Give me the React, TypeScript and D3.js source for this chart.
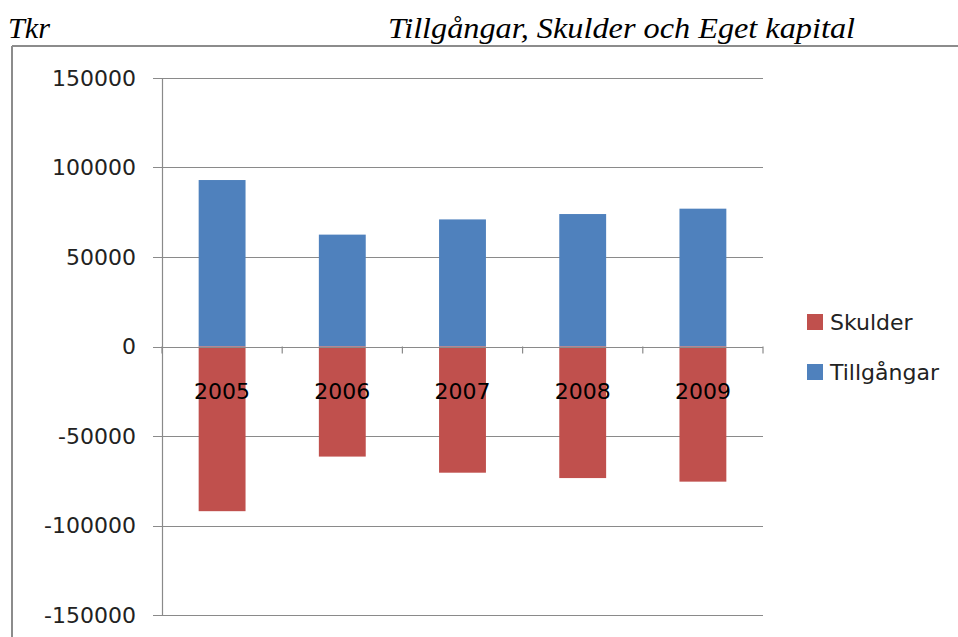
import * as d3 from "d3";
import React, { useEffect, useRef } from "react";

const years = ["2005", "2006", "2007", "2008", "2009"];
const tillgangar = [93000, 62500, 71000, 74000, 77000];
const skulder = [-92000, -61500, -70500, -73500, -75500];
const yTicks = [150000, 100000, 50000, 0, -50000, -100000, -150000];
const seriesNames = ["Skulder", "Tillgångar"];
const seriesColors = ["#c0504d", "#4f81bd"];

export default function App() {
    const ref = useRef(null);

    useEffect(() => {
        const svg = d3.select(ref.current);
        svg.selectAll("*").remove();

        const left = 162, right = 763, top = 78, bottom = 615;
        const font = "'DejaVu Sans', sans-serif";

        const y = d3.scaleLinear().domain([-150000, 150000]).range([bottom, top]);
        const x = d3.scaleBand().domain(years).range([left, right]).paddingInner(0.61).paddingOuter(0.305);
        const band = (right - left) / years.length;

        // titles
        svg.append("text")
            .attr("x", 8).attr("y", 38)
            .attr("textLength", 42)
            .attr("lengthAdjust", "spacingAndGlyphs")
            .style("font-family", "'Liberation Serif', serif")
            .style("font-style", "italic")
            .style("font-size", "30px")
            .text("Tkr");
        svg.append("text")
            .attr("x", 388).attr("y", 38)
            .attr("textLength", 467)
            .attr("lengthAdjust", "spacingAndGlyphs")
            .style("font-family", "'Liberation Serif', serif")
            .style("font-style", "italic")
            .style("font-size", "30px")
            .text("Tillgångar, Skulder och Eget kapital");

        // frame
        svg.append("line").attr("x1", 12).attr("x2", 958).attr("y1", 46).attr("y2", 46)
            .attr("stroke", "#8c8c8c").attr("stroke-width", 2);
        svg.append("line").attr("x1", 12).attr("x2", 12).attr("y1", 46).attr("y2", 637)
            .attr("stroke", "#8c8c8c").attr("stroke-width", 2);

        // gridlines
        svg.append("g")
            .selectAll("line")
            .data(yTicks)
            .join("line")
            .attr("x1", left - 9).attr("x2", right)
            .attr("y1", (d) => Math.round(y(d)) + 0.5).attr("y2", (d) => Math.round(y(d)) + 0.5)
            .attr("stroke", "#8a8a8a")
            .attr("stroke-width", 1.2);

        // y axis line
        svg.append("line").attr("x1", left + 0.5).attr("x2", left + 0.5).attr("y1", top).attr("y2", bottom)
            .attr("stroke", "#8a8a8a").attr("stroke-width", 1.2);

        svg.append("g")
            .selectAll("text")
            .data(yTicks)
            .join("text")
            .attr("x", 136)
            .attr("y", (d) => y(d))
            .attr("dy", "0.35em")
            .attr("text-anchor", "end")
            .style("font-family", font)
            .style("font-size", "22px")
            .attr("fill", "#222")
            .text((d) => d);

        // bars
        svg.append("g")
            .selectAll("rect")
            .data(tillgangar)
            .join("rect")
            .attr("x", (d, i) => x(years[i]))
            .attr("width", x.bandwidth())
            .attr("y", (d) => y(d))
            .attr("height", (d) => y(0) - y(d))
            .attr("fill", seriesColors[1]);
        svg.append("g")
            .selectAll("rect")
            .data(skulder)
            .join("rect")
            .attr("x", (d, i) => x(years[i]))
            .attr("width", x.bandwidth())
            .attr("y", y(0))
            .attr("height", (d) => y(d) - y(0))
            .attr("fill", seriesColors[0]);

        // zero axis with category ticks
        svg.append("line").attr("x1", left).attr("x2", right)
            .attr("y1", Math.round(y(0)) + 0.5).attr("y2", Math.round(y(0)) + 0.5)
            .attr("stroke", "#8a8a8a").attr("stroke-width", 1.2);
        svg.append("g")
            .selectAll("line")
            .data(d3.range(years.length + 1))
            .join("line")
            .attr("x1", (i) => left + i * band).attr("x2", (i) => left + i * band)
            .attr("y1", y(0)).attr("y2", y(0) + 7)
            .attr("stroke", "#8a8a8a").attr("stroke-width", 1.2);

        svg.append("g")
            .selectAll("text")
            .data(years)
            .join("text")
            .attr("x", (d) => x(d) + x.bandwidth() / 2)
            .attr("y", y(0) + 45)
            .attr("dy", "0.35em")
            .attr("text-anchor", "middle")
            .style("font-family", font)
            .style("font-size", "22px")
            .attr("fill", "#000")
            .text((d) => d);

        // legend
        const legend = svg.append("g").attr("transform", "translate(807, 322)");
        const item = legend.selectAll("g")
            .data(seriesNames)
            .join("g")
            .attr("transform", (d, i) => `translate(0, ${i * 50})`);
        item.append("rect")
            .attr("y", -8).attr("width", 16).attr("height", 16)
            .attr("fill", (d, i) => seriesColors[i]);
        item.append("text")
            .attr("x", 23).attr("dy", "0.35em")
            .style("font-family", font)
            .style("font-size", "22px")
            .attr("fill", "#222")
            .text((d) => d);
    }, []);

    return <svg ref={ref} width={958} height={637} style={{ position: "absolute", left: 0, top: 0 }} />;
}
